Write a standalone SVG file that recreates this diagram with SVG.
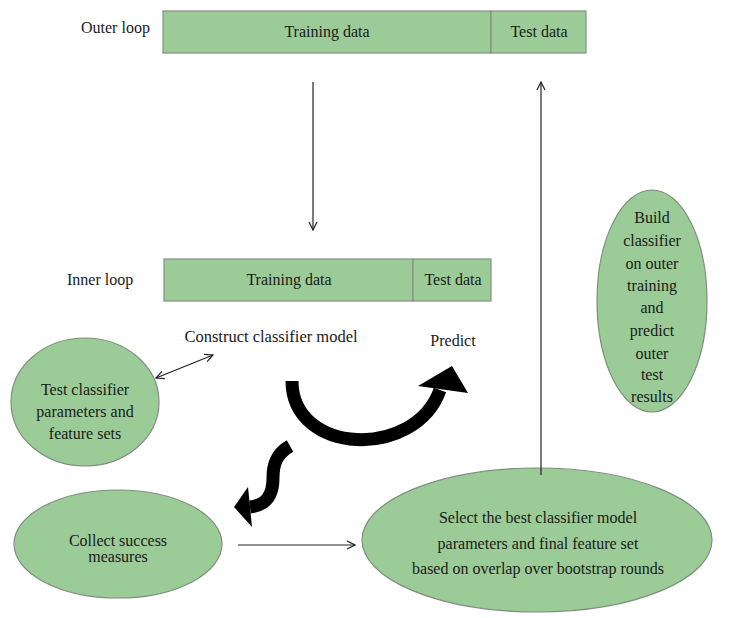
<svg xmlns="http://www.w3.org/2000/svg" width="729" height="618" viewBox="0 0 729 618">
<defs>
<style>
text{font-family:"Liberation Serif","DejaVu Serif",serif;font-size:16px;fill:#1a1a1a;text-anchor:middle}
.lbl{text-anchor:start}
.box{fill:#9bcb97;stroke:#858f84;stroke-width:1.2}
.ell{fill:#9bcb97;stroke:#7f8f7d;stroke-width:1.2}
.ln{stroke:#222;stroke-width:1.2;fill:none}
.big{stroke:#000;stroke-width:13;fill:none}
</style>
<marker id="ah" viewBox="0 0 10 10" refX="9" refY="5" markerWidth="10" markerHeight="10" markerUnits="userSpaceOnUse" orient="auto-start-reverse">
<path d="M1 1 L9 5 L1 9" fill="none" stroke="#222" stroke-width="1.2"/>
</marker>
</defs>
<rect width="729" height="618" fill="#fff"/>
<g id="outer">
<text class="lbl" x="81" y="33">Outer loop</text>
<rect class="box" x="163" y="11" width="328" height="42"/>
<rect class="box" x="491" y="11" width="95" height="42"/>
<text x="327" y="37">Training data</text>
<text x="539" y="37">Test data</text>
</g>
<g id="inner">
<text class="lbl" x="67" y="285">Inner loop</text>
<rect class="box" x="164" y="259" width="249" height="42"/>
<rect class="box" x="413" y="259" width="78" height="42"/>
<text x="289" y="285">Training data</text>
<text x="453" y="285">Test data</text>
</g>
<g id="construct"><text x="271" y="342" style="font-size:16.5px">Construct classifier model</text></g>
<g id="predict"><text x="453" y="346">Predict</text></g>
<g id="testparams">
<ellipse class="ell" cx="85" cy="402" rx="74" ry="64"/>
<text x="85" y="395">Test classifier</text>
<text x="85" y="417">parameters and</text>
<text x="85" y="439">feature sets</text>
</g>
<g id="collect">
<ellipse class="ell" cx="118" cy="544" rx="104" ry="54"/>
<text x="118" y="546">Collect success</text>
<text x="118" y="562">measures</text>
</g>
<g id="select">
<ellipse class="ell" cx="537" cy="540" rx="175" ry="72"/>
<text x="538" y="523">Select the best classifier model</text>
<text x="538" y="549">parameters and final feature set</text>
<text x="538" y="574">based on overlap over bootstrap rounds</text>
</g>
<g id="build">
<ellipse class="ell" cx="652" cy="301" rx="55" ry="111"/>
<text x="652" y="223">Build</text>
<text x="652" y="246">classifier</text>
<text x="652" y="269">on outer</text>
<text x="652" y="291">training</text>
<text x="652" y="313">and</text>
<text x="652" y="336">predict</text>
<text x="652" y="359">outer</text>
<text x="652" y="380">test</text>
<text x="652" y="402">results</text>
</g>
<g id="connectors">
<line class="ln" x1="313" y1="82" x2="313" y2="230" marker-end="url(#ah)"/>
<line class="ln" x1="541" y1="475" x2="541" y2="82" marker-end="url(#ah)"/>
<line class="ln" x1="238" y1="545" x2="355" y2="545" marker-end="url(#ah)"/>
<line class="ln" x1="156" y1="378" x2="213" y2="355" marker-start="url(#ah)" marker-end="url(#ah)"/>
<path class="big" d="M292 381 C292 455 415 460 440 390"/>
<polygon points="418,386 452,366 468,393" fill="#000"/>
<path class="big" d="M290 446 C276 454 273 465 273 478 C273 496 266 505 250 507"/>
<polygon points="248,487 234,507 252,527" fill="#000"/>
</g>
</svg>
